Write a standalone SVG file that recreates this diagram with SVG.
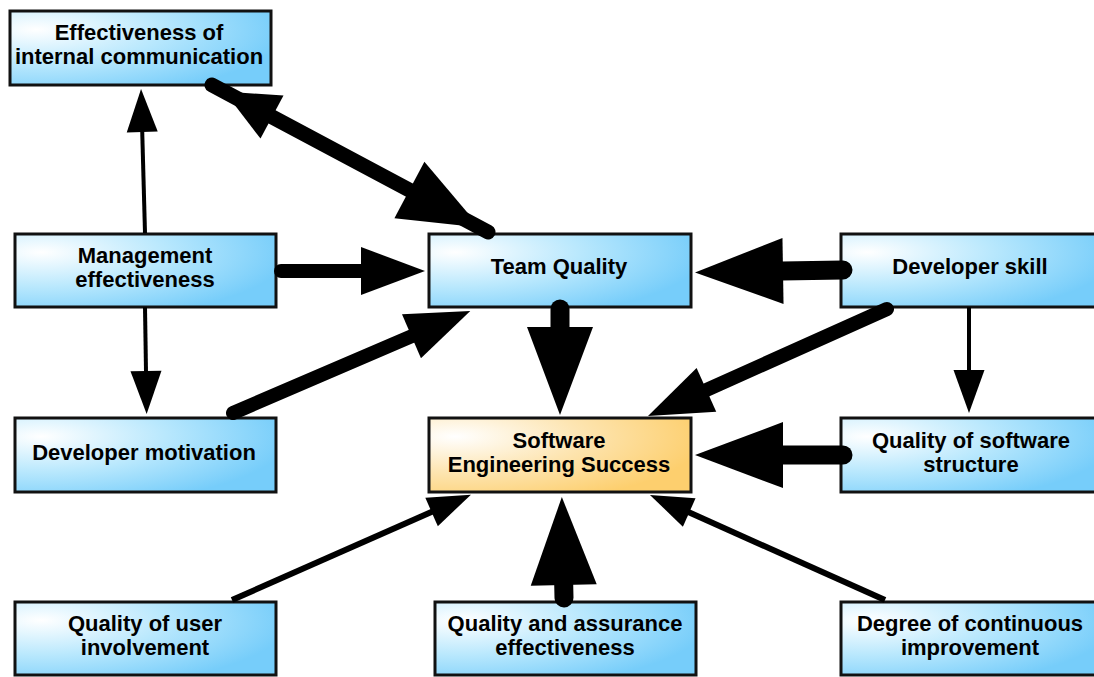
<svg xmlns="http://www.w3.org/2000/svg" width="1094" height="677" viewBox="0 0 1094 677">
<defs>
<radialGradient id="gBlue" cx="0.1" cy="0.25" r="0.95" fx="0.1" fy="0.25">
<stop offset="0" stop-color="#ffffff"/>
<stop offset="0.5" stop-color="#b9e8fd"/>
<stop offset="1" stop-color="#76cdfa"/>
</radialGradient>
<radialGradient id="gOrange" cx="0.1" cy="0.25" r="0.95" fx="0.1" fy="0.25">
<stop offset="0" stop-color="#ffffff"/>
<stop offset="0.5" stop-color="#fde5b2"/>
<stop offset="1" stop-color="#fdcf6e"/>
</radialGradient>
<marker id="hS" markerUnits="userSpaceOnUse" orient="auto" refX="0" refY="0" markerWidth="44" markerHeight="32" overflow="visible">
<path d="M-1,-15.5 L42,0 L-1,15.5 Z" fill="#000"/>
</marker>
<marker id="hM" markerUnits="userSpaceOnUse" orient="auto" refX="0" refY="0" markerWidth="64" markerHeight="48" overflow="visible">
<path d="M-1,-24 L63,0 L-1,24 Z" fill="#000"/>
</marker>
<marker id="hL" markerUnits="userSpaceOnUse" orient="auto" refX="0" refY="0" markerWidth="88" markerHeight="66" overflow="visible">
<path d="M-1,-33 L87,0 L-1,33 Z" fill="#000"/>
</marker>
</defs>
<style>
.box{fill:url(#gBlue);stroke:#111;stroke-width:3}
.box.main{fill:url(#gOrange)}
.lbl{font-family:"Liberation Sans",Arial,Helvetica,sans-serif;font-weight:bold;font-size:22px;fill:#000;text-anchor:middle}
.c{fill:none;stroke:#000;stroke-linecap:round}
.thin{stroke-width:4;stroke-linecap:butt}
.thin6{stroke-width:6;stroke-linecap:butt}
.med{stroke-width:14}
.big{stroke-width:19}
.head{fill:#000}
</style>
<rect width="1094" height="677" fill="#fff"/>
<g id="node-internal-communication">
<rect class="box" x="10" y="11" width="261" height="74"/>
<text class="lbl" x="139" y="40">Effectiveness of</text>
<text class="lbl" x="139" y="64">internal communication</text>
</g>
<g id="node-management">
<rect class="box" x="15" y="234" width="261" height="73"/>
<text class="lbl" x="145" y="263">Management</text>
<text class="lbl" x="145" y="287">effectiveness</text>
</g>
<g id="node-team-quality">
<rect class="box" x="429" y="234" width="262" height="73"/>
<text class="lbl" x="559" y="274">Team Quality</text>
</g>
<g id="node-developer-skill">
<rect class="box" x="841" y="234" width="262" height="73"/>
<text class="lbl" x="970" y="274">Developer skill</text>
</g>
<g id="node-developer-motivation">
<rect class="box" x="15" y="418" width="261" height="74"/>
<text class="lbl" x="144" y="460">Developer motivation</text>
</g>
<g id="node-success">
<rect class="box main" x="429" y="418" width="262" height="74"/>
<text class="lbl" x="559" y="448">Software</text>
<text class="lbl" x="559" y="472">Engineering Success</text>
</g>
<g id="node-software-structure">
<rect class="box" x="841" y="418" width="262" height="74"/>
<text class="lbl" x="971" y="448">Quality of software</text>
<text class="lbl" x="971" y="472">structure</text>
</g>
<g id="node-user-involvement">
<rect class="box" x="15" y="602" width="261" height="73"/>
<text class="lbl" x="145" y="631">Quality of user</text>
<text class="lbl" x="145" y="655">involvement</text>
</g>
<g id="node-qa">
<rect class="box" x="435" y="602" width="261" height="73"/>
<text class="lbl" x="565" y="631">Quality and assurance</text>
<text class="lbl" x="565" y="655">effectiveness</text>
</g>
<g id="node-continuous-improvement">
<rect class="box" x="841" y="602" width="262" height="73"/>
<text class="lbl" x="970" y="631">Degree of continuous</text>
<text class="lbl" x="970" y="655">improvement</text>
</g>
<g id="connectors">
<line class="c thin" x1="145" y1="233" x2="142.2" y2="131" marker-end="url(#hS)"/>
<line class="c thin" x1="145" y1="307" x2="146" y2="372" marker-end="url(#hS)"/>
<line class="c thin" x1="969" y1="307" x2="969" y2="371" marker-end="url(#hS)"/>
<line class="c med" x1="281" y1="271" x2="362" y2="271" marker-end="url(#hM)"/>
<line class="c med" x1="233" y1="413" x2="412.4" y2="335.9" marker-end="url(#hM)"/>
<line class="c med" x1="887" y1="309" x2="705.5" y2="390.3" marker-end="url(#hM)"/>
<line class="c big" x1="560" y1="309" x2="560" y2="328" stroke-width="17" marker-end="url(#hL)"/>
<line class="c big" x1="843" y1="270" x2="782" y2="271" marker-end="url(#hL)"/>
<line class="c big" x1="843" y1="455" x2="782" y2="455" marker-end="url(#hL)"/>
<line class="c big" x1="564" y1="598" x2="563.7" y2="584" stroke-width="18" marker-end="url(#hL)"/>
<line class="c thin6" x1="232" y1="600" x2="432.5" y2="511.6" marker-end="url(#hS)"/>
<line class="c thin6" x1="885" y1="600" x2="688.3" y2="512.1" marker-end="url(#hS)"/>
<line class="c" x1="212" y1="85" x2="488" y2="232" stroke-width="15"/>
<polygon class="head" points="224.4,91.6 283.5,95.4 260.5,138.6"/>
<polygon class="head" points="480,227.6 424.4,161.7 394.4,218.3"/>
</g>
</svg>
